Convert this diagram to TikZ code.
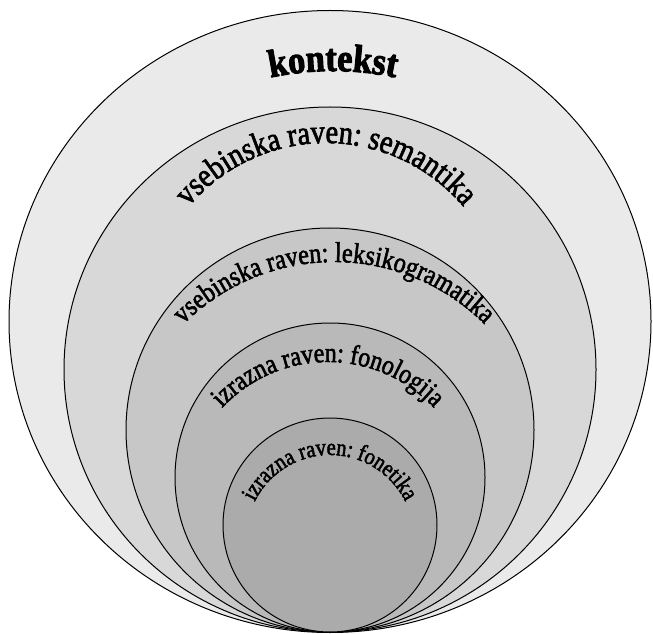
\documentclass[tikz,border=0pt]{standalone}
\usepackage{fontspec}
\setmainfont{Liberation Serif}
\newfontfamily\ringfont{Liberation Serif}[FakeBold=2,FakeStretch=0.85]
\newfontfamily\ctxfont{Liberation Serif}[FakeBold=2.5,FakeStretch=0.88]
\usetikzlibrary{decorations.text}

\definecolor{ctxgray}{HTML}{EAEAEA}
\definecolor{semgray}{HTML}{D8D8D8}
\definecolor{leksgray}{HTML}{C7C7C7}
\definecolor{fongray}{HTML}{B9B9B9}
\definecolor{fetgray}{HTML}{ABABAB}

\tikzset{
  ring/.style={draw=black,line width=1pt},
  ringlabel/.style={decorate,decoration={text along path,text align=center,text={#1}}}
}

\begin{document}
\begin{tikzpicture}[x=1pt,y=1pt,line cap=round,line join=round]
  \useasboundingbox (0,0) rectangle (653,633);
  % rings, from outside in
  \draw[ring,fill=ctxgray] (330,311.5) ellipse [x radius=321pt,y radius=311pt];
  \draw[ring,fill=semgray] (330,263.5) ellipse [x radius=266pt,y radius=262.5pt];
  \draw[ring,fill=leksgray] (330,203) ellipse [x radius=204pt,y radius=202pt];
  \draw[ring,fill=fongray] (330,155.5) ellipse [x radius=155pt,y radius=154.5pt];
  \draw[ring,fill=fetgray] (330,108) ellipse [x radius=107pt,y radius=107pt];
  % labels along the arcs
  \path[ringlabel={|\ctxfont\bfseries\fontsize{39}{39}\selectfont|kontekst}]
    (333,262) ++(112:300) arc[start angle=112,end angle=68,radius=300pt];
  \path[ringlabel={|\ringfont\fontsize{33.5}{33.5}\selectfont|vsebinska raven: semantika}]
    (326,310) ++(165:180) arc[start angle=165,end angle=15,radius=180pt];
  \path[ringlabel={|\ringfont\fontsize{28.5}{28.5}\selectfont|vsebinska raven: leksikogramatika}]
    (334,158) ++(155:213) arc[start angle=155,end angle=25,radius=213pt];
  \path[ringlabel={|\ringfont\fontsize{28}{28}\selectfont|izrazna raven: fonologija}]
    (328,126) ++(170:145) arc[start angle=170,end angle=10,radius=145pt];
  \path[ringlabel={|\ringfont\fontsize{24}{24}\selectfont|izrazna raven: fonetika}]
    (330,94) ++(178:84) arc[start angle=178,end angle=2,radius=84pt];
\end{tikzpicture}
\end{document}
